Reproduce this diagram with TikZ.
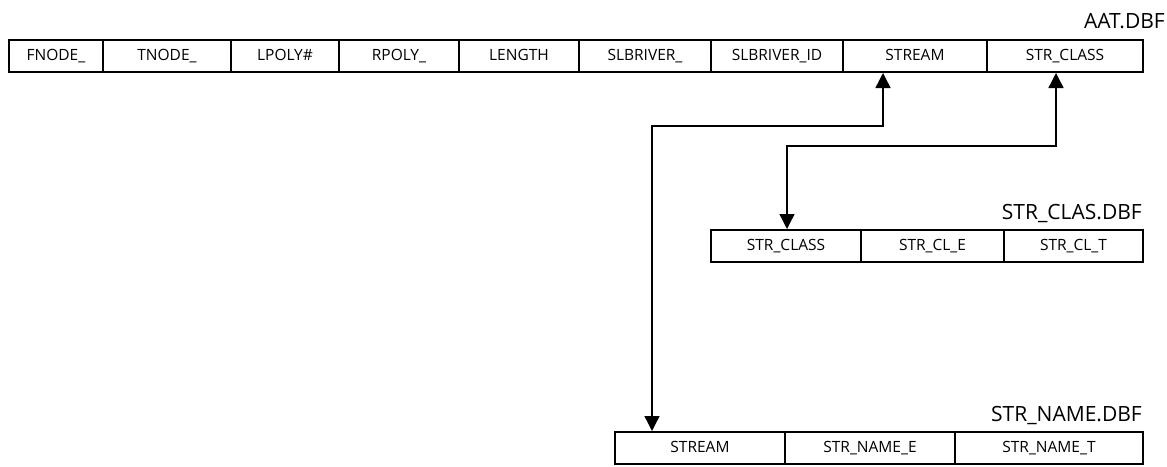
\documentclass[tikz,border=0pt]{standalone}
\usepackage{fontspec}
\setmainfont{Open Sans}
\usetikzlibrary{arrows.meta,calc}
\tikzset{
  cell/.style={draw, line width=2pt, rectangle, minimum height=32pt, inner sep=0pt, font=\fontsize{15.5}{16}\selectfont, anchor=north west},
  tlabel/.style={anchor=base east, inner sep=0pt, font=\fontsize{21}{22}\selectfont},
  conn/.style={line width=1.4pt, {Triangle[width=15pt,length=15pt]}-{Triangle[width=15pt,length=15pt]}}
}
\newcommand{\cellat}[5]{% name, x, y, width, text
  \node[cell, minimum width=#4pt, text height=11.5pt, text depth=2pt] (#1) at (#2,#3) {#5};}
\begin{document}
\begin{tikzpicture}[x=1pt,y=-1pt]
\useasboundingbox (0,0) rectangle (1167,466);
% AAT table
\cellat{a1}{8}{39}{94}{FNODE\_}
\cellat{a2}{102}{39}{128}{TNODE\_}
\cellat{a3}{230}{39}{108}{LPOLY\#}
\cellat{a4}{338}{39}{120}{RPOLY\_}
\cellat{a5}{458}{39}{120}{LENGTH}
\cellat{a6}{578}{39}{132}{SLBRIVER\_}
\cellat{a7}{710}{39}{132}{SLBRIVER\_ID}
\cellat{a8}{842}{39}{144}{STREAM}
\cellat{a9}{986}{39}{156}{STR\_CLASS}
\node[tlabel] (laat) at (1165,28) {AAT.DBF};
% STR_CLAS table
\cellat{c1}{710}{229}{150}{STR\_CLASS}
\cellat{c2}{860}{229}{143}{STR\_CL\_E}
\cellat{c3}{1003}{229}{139}{STR\_CL\_T}
\node[tlabel] (lcl) at (1142,219) {STR\_CLAS.DBF};
% STR_NAME table
\cellat{n1}{614}{431}{170}{STREAM}
\cellat{n2}{784}{431}{170}{STR\_NAME\_E}
\cellat{n3}{954}{431}{188}{STR\_NAME\_T}
\node[tlabel] (lnm) at (1142,421) {STR\_NAME.DBF};
% connectors
\coordinate (p1) at ($(n1.north west)+(38,0)$);
\coordinate (p2) at ($(a8.south west)+(41,0)$);
\coordinate (h1) at (0,126);
\draw[conn] (p1) -- (p1 |- h1) -- (p2 |- h1) -- (p2);
\coordinate (q1) at ($(a9.south west)+(70,0)$);
\coordinate (q2) at ($(c1.north west)+(77,0)$);
\coordinate (h2) at (0,146);
\draw[conn] (q1) -- (q1 |- h2) -- (q2 |- h2) -- (q2);
\end{tikzpicture}
\end{document}
